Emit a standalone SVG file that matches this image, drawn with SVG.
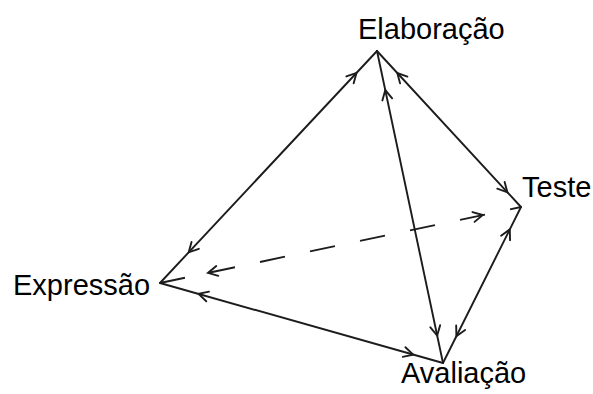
<svg xmlns="http://www.w3.org/2000/svg" xmlns:xlink="http://www.w3.org/1999/xlink" width="593" height="394" viewBox="0 0 593 394">
  <style>
    .edge { stroke: #1c1c1c; stroke-width: 1.9; fill: none; stroke-linecap: round; }
    .dash { stroke-dasharray: 25.5 25.6; stroke-linecap: butt; }
    .head { stroke: #1c1c1c; stroke-width: 1.9; fill: none; stroke-linejoin: miter; stroke-linecap: round; }
    .label { font-family: "Liberation Sans", Arial, sans-serif; font-size: 29px; fill: #000; }
  </style>
  <defs>
    <!-- open chevron arrowhead, tip at origin, pointing along +x -->
    <path id="chev" class="head" d="M -9.5 -5 L 0 0 L -9.5 5"/>
  </defs>

  <rect width="593" height="394" fill="#fff"/>

  <g id="connectors">
    <!-- Elaboração – Expressão -->
    <line class="edge" x1="377" y1="51" x2="160" y2="283"/>
    <use xlink:href="#chev" transform="translate(356.5,72.9) rotate(-46.9)"/>
    <use xlink:href="#chev" transform="translate(188.7,252.3) rotate(133.1)"/>
    <!-- Elaboração – Teste -->
    <line class="edge" x1="377" y1="51" x2="521" y2="207"/>
    <use xlink:href="#chev" transform="translate(397.3,73) rotate(-132.7)"/>
    <use xlink:href="#chev" transform="translate(507.4,192.3) rotate(47.3)"/>
    <!-- Elaboração – Avaliação -->
    <line class="edge" x1="377" y1="51" x2="443" y2="363"/>
    <use xlink:href="#chev" transform="translate(385.3,90.1) rotate(-101.9)"/>
    <use xlink:href="#chev" transform="translate(437.2,335.6) rotate(78.1)"/>
    <!-- Expressão – Avaliação -->
    <line class="edge" x1="160" y1="283" x2="443" y2="363"/>
    <use xlink:href="#chev" transform="translate(198.5,293.9) rotate(-164.2)"/>
    <use xlink:href="#chev" transform="translate(413.2,354.6) rotate(15.8)"/>
    <!-- Teste – Avaliação -->
    <line class="edge" x1="521" y1="207" x2="443" y2="363"/>
    <use xlink:href="#chev" transform="translate(509.8,229.4) rotate(-63.4)"/>
    <use xlink:href="#chev" transform="translate(456.4,336.2) rotate(116.6)"/>
    <!-- Expressão – Teste (hidden edge, dashed) -->
    <line class="edge dash" x1="160" y1="283" x2="521" y2="207"/>
    <use xlink:href="#chev" transform="translate(208,272.9) rotate(168.1)"/>
    <use xlink:href="#chev" transform="translate(482.8,215) rotate(-12)"/>
  </g>

  <g id="elaboracao">
    <text class="label" x="358" y="39">Elaboração</text>
  </g>
  <g id="expressao">
    <text class="label" x="13" y="295">Expressão</text>
  </g>
  <g id="teste">
    <text class="label" x="522" y="197">Teste</text>
  </g>
  <g id="avaliacao">
    <text class="label" x="401" y="383">Avaliação</text>
  </g>
</svg>
